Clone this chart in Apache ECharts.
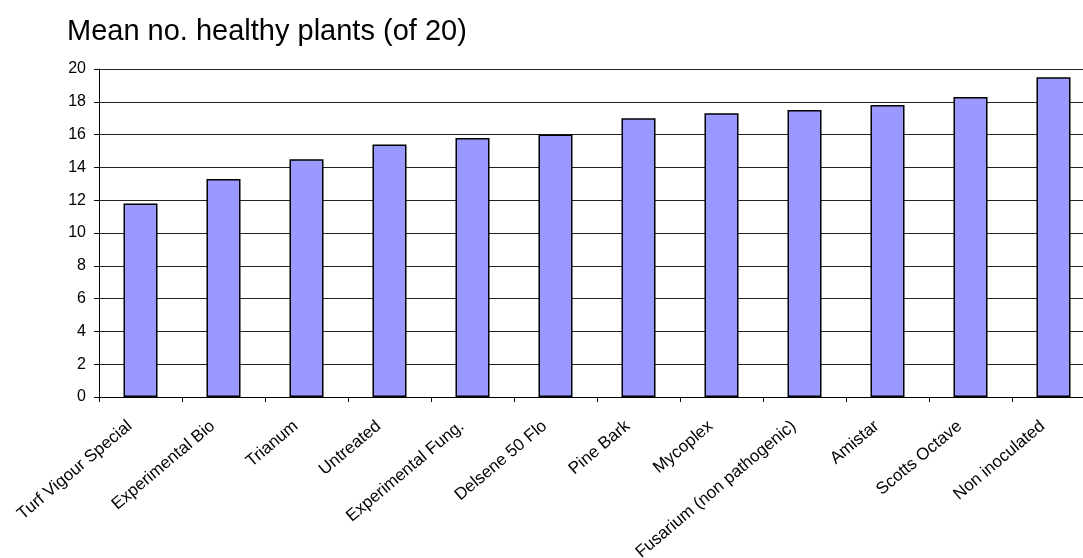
<!DOCTYPE html>
<html>
<head>
<meta charset="utf-8">
<script src="https://cdn.jsdelivr.net/npm/echarts@6/dist/echarts.min.js"></script>
<style>
html,body{margin:0;padding:0;background:#fff;overflow:hidden;width:1083px;height:558px;}
#chart{width:1095px;height:558px;}
</style>
</head>
<body>
<div id="chart"></div>
<script>
const chartTitle = 'Mean no. healthy plants (of 20)';
const categories = ['Turf Vigour Special','Experimental Bio','Trianum','Untreated','Experimental Fung.','Delsene 50 Flo','Pine Bark','Mycoplex','Fusarium (non pathogenic)','Amistar','Scotts Octave','Non inoculated'];
const values = [11.8, 13.3, 14.5, 15.4, 15.8, 16.0, 17.0, 17.3, 17.5, 17.8, 18.3, 19.5];
const yMin = 0, yMax = 20, yStep = 2;

const chart = echarts.init(document.getElementById('chart'), null, {renderer:'canvas'});
const font = 'Liberation Sans, Arial, sans-serif';
chart.setOption({
  animation:false,
  backgroundColor:'#fff',
  title:{text:chartTitle,left:62,top:12,textStyle:{fontFamily:font,fontSize:29,fontWeight:'normal',color:'#000'}},
  grid:{left:99,right:0,top:69,bottom:161,containLabel:false,outerBoundsMode:'none'},
  xAxis:{type:'category',data:categories,
    axisLine:{lineStyle:{color:'#000',width:1}},
    axisTick:{show:true,length:5,lineStyle:{color:'#000'}},
    axisLabel:{interval:0,rotate:40,margin:18,padding:[0,14,0,0],fontFamily:font,fontSize:17,color:'#000'}},
  yAxis:{type:'value',min:yMin,max:yMax,interval:yStep,
    axisLine:{show:true,lineStyle:{color:'#000',width:1}},
    axisTick:{show:true,length:5,lineStyle:{color:'#000'}},
    axisLabel:{margin:13,fontFamily:font,fontSize:16,color:'#000'},
    splitLine:{lineStyle:{color:'#222',width:1}}},
  series:[{type:'bar',data:values,barWidth:'41%',
    itemStyle:{color:'#9999FF',borderColor:'#000',borderWidth:1.5}}]
});
</script>
</body>
</html>
